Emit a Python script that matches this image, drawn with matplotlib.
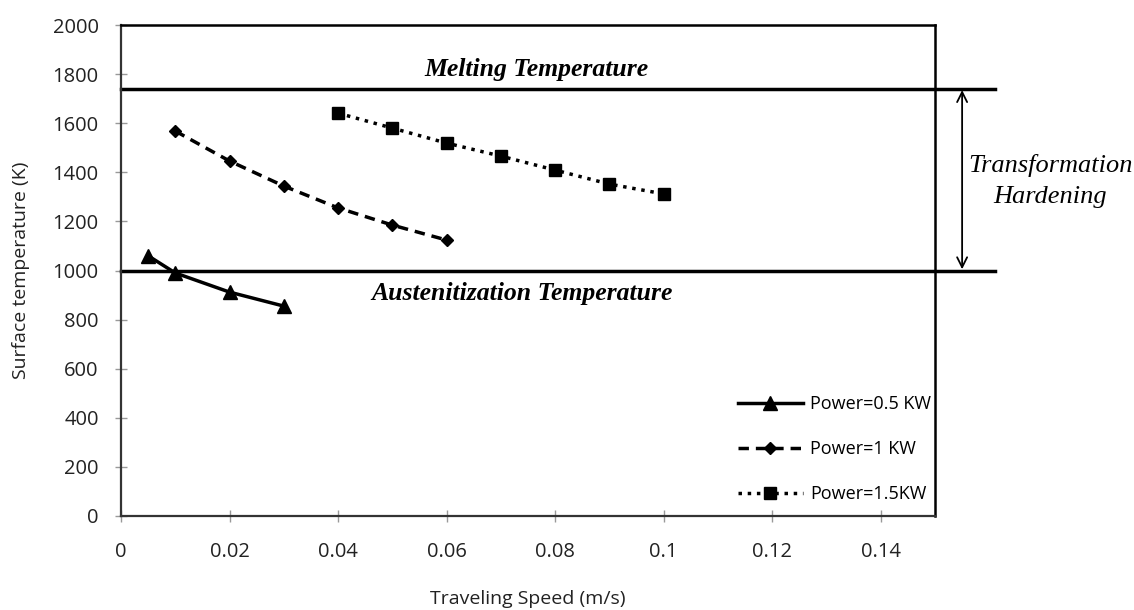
import matplotlib.pyplot as plt

# data
speed_05 = [0.005, 0.01, 0.02, 0.03]
temp_05 = [1060, 990, 912, 855]
speed_10 = [0.01, 0.02, 0.03, 0.04, 0.05, 0.06]
temp_10 = [1568, 1446, 1344, 1255, 1185, 1124]
speed_15 = [0.04, 0.05, 0.06, 0.07, 0.08, 0.09, 0.1]
temp_15 = [1641, 1580, 1519, 1466, 1409, 1352, 1312]
melting_temp = 1740
austenite_temp = 1000
x_ticks = [0, 0.02, 0.04, 0.06, 0.08, 0.1, 0.12, 0.14]
x_ticklabels = ['0', '0.02', '0.04', '0.06', '0.08', '0.1', '0.12', '0.14']
y_ticks = list(range(0, 2001, 200))

sans = ['Open Sans', 'DejaVu Sans']
serif = ['Liberation Serif', 'DejaVu Serif']

fig = plt.figure(figsize=(11.34, 6.10), dpi=100)
ax = fig.add_axes([0.1067, 0.1541, 0.7178, 0.8049])

ax.plot(speed_05, temp_05, '-', color='black', lw=2.5, marker='^', ms=9.5,
        label='Power=0.5 KW')
ax.plot(speed_10, temp_10, '--', color='black', lw=2.5, marker='D', ms=6.5,
        dashes=(3, 2), label='Power=1 KW')
ax.plot(speed_15, temp_15, ':', color='black', lw=2.5, marker='s', ms=8,
        label='Power=1.5KW')

# reference temperatures, lines run past the right edge of the plot
ax.plot([0, 0.161], [melting_temp, melting_temp], color='black', lw=2.5, clip_on=False)
ax.plot([0, 0.161], [austenite_temp, austenite_temp], color='black', lw=2.5, clip_on=False)
ax.annotate('', xy=(0.155, melting_temp - 5), xytext=(0.155, austenite_temp + 5),
            arrowprops=dict(arrowstyle='<->', color='black', lw=1.3,
                            mutation_scale=18, shrinkA=0, shrinkB=0),
            annotation_clip=False)

ax.text(0.0765, 1817, 'Melting Temperature', ha='center', va='center',
        family=serif, style='italic', weight='bold', fontsize=18.5)
ax.text(0.0739, 908, 'Austenitization Temperature', ha='center', va='center',
        family=serif, style='italic', weight='bold', fontsize=18.5)
ax.text(0.1712, 1365, 'Transformation\nHardening', ha='center', va='center',
        family=serif, style='italic', fontsize=19, linespacing=1.55,
        clip_on=False)

ax.set_xlim(0, 0.15)
ax.set_ylim(0, 2000)
ax.set_xticks(x_ticks)
ax.set_xticklabels(x_ticklabels)
ax.set_yticks(y_ticks)
ax.tick_params(direction='inout', length=8, width=1, color='#999999',
               labelsize=14.5, labelcolor='#222222')
ax.tick_params(axis='x', pad=15)
ax.tick_params(axis='y', pad=12)
for lbl in ax.get_xticklabels() + ax.get_yticklabels():
    lbl.set_family(sans)

for side in ['left', 'bottom']:
    ax.spines[side].set_color('#333333')
    ax.spines[side].set_linewidth(1.6)
for side in ['top', 'right']:
    ax.spines[side].set_color('black')
    ax.spines[side].set_linewidth(1.8)

ax.set_xlabel('Traveling Speed (m/s)', family=sans, fontsize=14, color='#222222',
              labelpad=20)
ax.set_ylabel('Surface temperature (K)', family=sans, fontsize=14, color='#222222',
              labelpad=16)

ax.legend(loc='lower right', bbox_to_anchor=(1.015, -0.007), frameon=False,
          prop={'family': sans, 'size': 13}, handlelength=3.6,
          labelspacing=1.5, handletextpad=0.4)

fig.savefig('out.png', dpi=100)
